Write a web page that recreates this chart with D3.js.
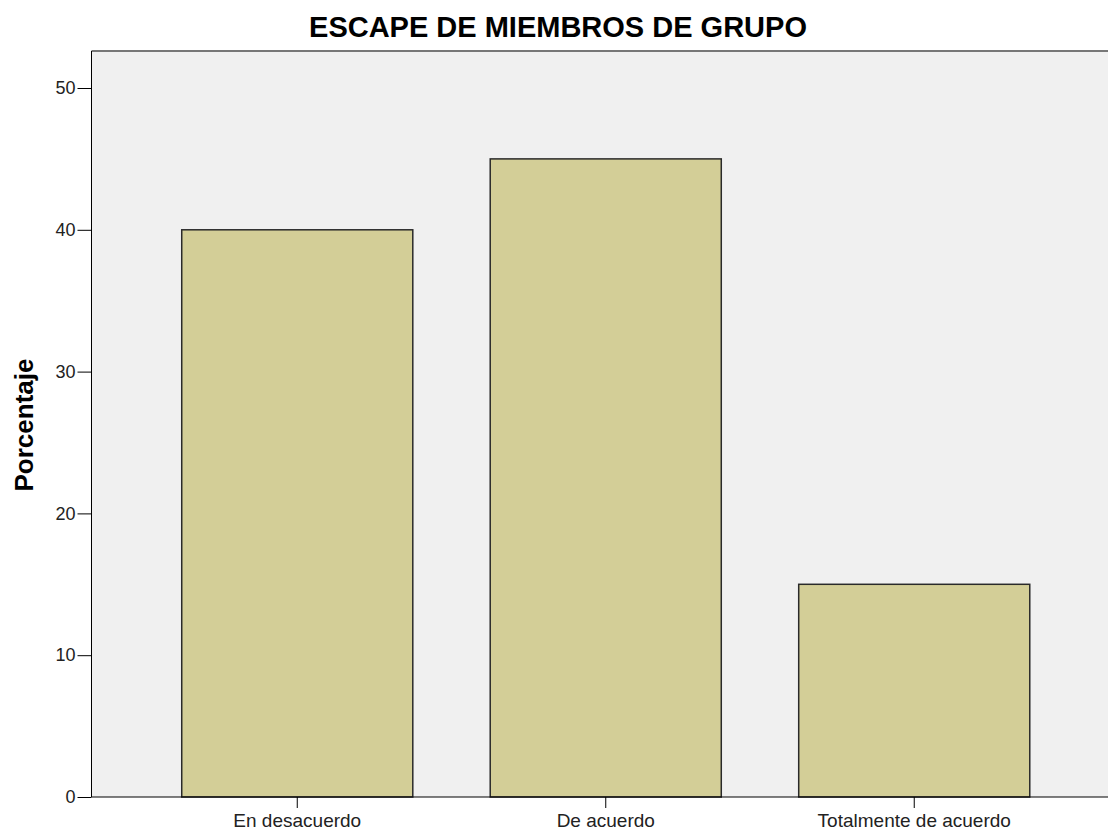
<!DOCTYPE html>
<html>
<head>
<meta charset="utf-8">
<script src="https://cdn.jsdelivr.net/npm/d3@7"></script>
<style>
  body { margin: 0; background: #fff; }
  svg { display: block; font-family: Arial, "Liberation Sans", sans-serif; }
</style>
</head>
<body>
<div id="graph"></div>
<script>
let width = 1108, height = 830;

// Data
let categories = ["En desacuerdo", "De acuerdo", "Totalmente de acuerdo"];
let values = [40, 45, 15];
let yTicks = [0, 10, 20, 30, 40, 50];

let margin = {left: 91.5, top: 51, bottom: 797, right: 1120};

let svg = d3.select("#graph").append("svg")
    .attr("width", width)
    .attr("height", height);

let x = d3.scaleBand()
    .domain(categories)
    .range([margin.left, margin.right])
    .paddingInner(0.251)
    .paddingOuter(0.2925);

let y = d3.scaleLinear()
    .domain([0, 50])
    .range([margin.bottom, 88]);

// plot background
svg.append("rect")
  .attr("x", margin.left)
  .attr("y", margin.top)
  .attr("width", margin.right - margin.left)
  .attr("height", margin.bottom - margin.top)
  .attr("fill", "#f0f0f0");

// top border
svg.append("line")
  .attr("x1", margin.left).attr("x2", width)
  .attr("y1", margin.top).attr("y2", margin.top)
  .attr("stroke", "#777").attr("stroke-width", 2);

// bars
svg.append("g").selectAll("rect")
  .data(values)
  .enter().append("rect")
  .attr("x", (d, i) => x(categories[i]))
  .attr("y", d => y(d))
  .attr("width", x.bandwidth())
  .attr("height", d => y(0) - y(d))
  .attr("fill", "#d3ce97")
  .attr("stroke", "#2a2a2a")
  .attr("stroke-width", 1.5);

// y axis
let yAxis = svg.append("g")
  .attr("transform", "translate(" + margin.left + ",0)")
  .call(d3.axisLeft(y).tickValues(yTicks).tickSize(14).tickPadding(2).tickSizeOuter(0));
yAxis.select(".domain").attr("d", "M0," + margin.top + "V" + margin.bottom).attr("stroke", "#000");
yAxis.selectAll("text").style("font-size", "18px").attr("fill", "#222");

// x axis
let xAxis = svg.append("g")
  .attr("transform", "translate(0," + margin.bottom + ")")
  .call(d3.axisBottom(x).tickSize(11).tickPadding(6).tickSizeOuter(0));
xAxis.select(".domain").attr("d", "M" + margin.left + ",0H" + width).attr("stroke", "#000");
xAxis.selectAll("text").style("font-size", "19px").attr("fill", "#222");

// title
svg.append("text")
  .attr("x", 558)
  .attr("y", 37)
  .attr("text-anchor", "middle")
  .style("font-size", "29px")
  .style("font-weight", "bold")
  .text("ESCAPE DE MIEMBROS DE GRUPO");

// y label
svg.append("text")
  .attr("transform", "translate(33,425) rotate(-90)")
  .attr("text-anchor", "middle")
  .style("font-size", "26px")
  .style("font-weight", "bold")
  .text("Porcentaje");
</script>
</body>
</html>
